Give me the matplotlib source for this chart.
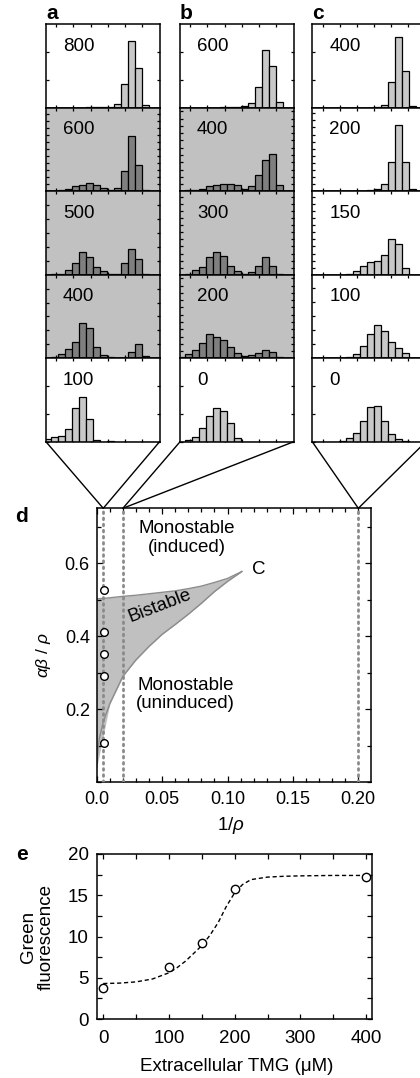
import numpy as np
import matplotlib.pyplot as plt
from matplotlib.ticker import MultipleLocator, FixedLocator, NullFormatter
from matplotlib.patches import ConnectionPatch

plt.rcParams['font.family'] = ['Liberation Sans', 'DejaVu Sans']
plt.rcParams['mathtext.fontset'] = 'custom'
plt.rcParams['mathtext.rm'] = 'Liberation Sans'
plt.rcParams['mathtext.it'] = 'Liberation Sans:italic'

# --- histograms (fraction of panel height per fluorescence bin, 16 bins) ---
a_tmg = ['800', '600', '500', '400', '100']
a_bistable = [False, True, True, True, False]
a_step = [0.335, 0.084, 0.167, 0.167, 0.335]
a_hist = [
    [0, 0, 0, 0, 0, 0, 0.01, 0.01, 0.01, 0.01, 0.05, 0.28, 0.80, 0.48, 0.03, 0],
    [0, 0, 0.01, 0.03, 0.06, 0.08, 0.10, 0.08, 0.04, 0.01, 0.04, 0.24, 0.66, 0.32, 0.02, 0],
    [0, 0.005, 0.01, 0.06, 0.14, 0.27, 0.21, 0.09, 0.04, 0.01, 0.01, 0.14, 0.31, 0.19, 0.005, 0],
    [0.005, 0.02, 0.05, 0.11, 0.20, 0.42, 0.36, 0.13, 0.04, 0.01, 0.005, 0, 0.08, 0.17, 0.03, 0],
    [0.03, 0.06, 0.07, 0.15, 0.41, 0.54, 0.27, 0.02, 0, 0.005, 0, 0, 0, 0, 0, 0],
]

b_tmg = ['600', '400', '300', '200', '0']
b_bistable = [False, True, True, True, False]
b_step = [0.335, 0.087, 0.085, 0.087, 0.335]
b_hist = [
    [0, 0, 0, 0, 0, 0, 0.005, 0.01, 0.015, 0.02, 0.06, 0.25, 0.69, 0.50, 0.065, 0],
    [0, 0.01, 0.02, 0.03, 0.06, 0.08, 0.09, 0.09, 0.08, 0.03, 0.06, 0.20, 0.38, 0.45, 0.07, 0],
    [0, 0.01, 0.06, 0.09, 0.21, 0.27, 0.23, 0.10, 0.05, 0.01, 0.03, 0.10, 0.21, 0.10, 0.01, 0],
    [0.02, 0.05, 0.10, 0.18, 0.29, 0.26, 0.22, 0.13, 0.06, 0.03, 0.04, 0.06, 0.10, 0.07, 0.01, 0],
    [0, 0.02, 0.06, 0.16, 0.31, 0.40, 0.37, 0.23, 0.05, 0, 0, 0, 0, 0, 0, 0],
]

c_tmg = ['400', '200', '150', '100', '0']
c_bistable = [False, False, False, False, False]
c_step = [0.335, 0.085, 0.085, 0.168, 0.335]
c_hist = [
    [0, 0, 0, 0, 0, 0, 0, 0, 0, 0.015, 0.035, 0.31, 0.85, 0.44, 0.025, 0],
    [0, 0, 0, 0, 0, 0, 0, 0.005, 0.01, 0.03, 0.09, 0.345, 0.80, 0.345, 0.025, 0],
    [0, 0, 0, 0, 0, 0.01, 0.04, 0.10, 0.15, 0.16, 0.24, 0.43, 0.37, 0.08, 0, 0],
    [0, 0, 0, 0, 0, 0.02, 0.05, 0.15, 0.29, 0.40, 0.33, 0.19, 0.12, 0.06, 0.005, 0],
    [0, 0, 0, 0, 0.01, 0.04, 0.10, 0.25, 0.42, 0.43, 0.25, 0.09, 0.03, 0.005, 0, 0],
]

inv_rho = [0.005, 0.02, 0.2]   # 1/rho of columns a, b, c

# --- phase diagram (panel d) ---
upper_x = [0.0, 0.01, 0.02, 0.03, 0.04, 0.05, 0.06, 0.07, 0.08, 0.09, 0.10, 0.111]
upper_y = [0.502, 0.505, 0.509, 0.512, 0.516, 0.520, 0.524, 0.530, 0.537, 0.547, 0.558, 0.577]
lower_x = [0.0, 0.001, 0.002, 0.005, 0.01, 0.02, 0.03, 0.04, 0.05, 0.06, 0.07, 0.08, 0.09, 0.10, 0.111]
lower_y = [0.04, 0.09, 0.12, 0.165, 0.215, 0.29, 0.335, 0.372, 0.405, 0.432, 0.46, 0.49, 0.522, 0.55, 0.577]
circ_x = [0.0056, 0.0056, 0.0056, 0.0056, 0.0056]
circ_y = [0.527, 0.411, 0.35, 0.291, 0.108]

# --- induction curve (panel e) ---
tmg = [0, 100, 150, 200, 400]
green = [3.8, 6.3, 9.2, 15.8, 17.2]
fit_x = [0, 25, 50, 75, 100, 112, 125, 137, 150, 162, 175, 187, 200, 212, 225, 250, 275, 300, 350, 400]
fit_y = [4.3, 4.35, 4.5, 4.85, 5.6, 6.2, 7.0, 7.9, 8.9, 10.1, 11.7, 13.6, 15.3, 16.3, 16.9, 17.2, 17.3, 17.35, 17.4, 17.4]

W, H = 420, 1078
FS = 13.5
fig = plt.figure(figsize=(W / 100, H / 100), dpi=100)


def box(l, t, r, b):
    return [l / W, 1 - b / H, (r - l) / W, (b - t) / H]


col_left = [46, 180, 312.3]
col_w = 113.5
row_top = 24.3
row_h = 83.5
bottoms = []

for ci, (tmgs, bist, steps, hists, lab) in enumerate([
        (a_tmg, a_bistable, a_step, a_hist, 'a'),
        (b_tmg, b_bistable, b_step, b_hist, 'b'),
        (c_tmg, c_bistable, c_step, c_hist, 'c')]):
    l = col_left[ci]
    for ri in range(5):
        t = row_top + ri * row_h
        ax = fig.add_axes(box(l, t, l + col_w, t + row_h))
        ax.set_facecolor('#c1c1c1' if bist[ri] else 'white')
        ax.bar(np.arange(16), hists[ri], width=1, align='edge',
               color='#7f7f7f' if bist[ri] else '#c8c8c8',
               edgecolor='k', linewidth=0.9, zorder=2)
        ax.set_xlim(0.24, 16.46)
        ax.set_ylim(0, 1)
        ax.xaxis.set_major_locator(FixedLocator([1.7, 4.15, 6.6, 9.05, 11.5, 13.95]))
        ax.yaxis.set_major_locator(MultipleLocator(steps[ri]))
        ax.xaxis.set_major_formatter(NullFormatter())
        ax.yaxis.set_major_formatter(NullFormatter())
        ax.tick_params(direction='in', length=2.5, width=0.9,
                       top=True, right=True, bottom=True, left=True)
        for s in ax.spines.values():
            s.set_linewidth(1.1)
            s.set_zorder(3)
        ax.text(0.15, 0.74, tmgs[ri], transform=ax.transAxes,
                va='center', ha='left', fontsize=FS)
        if ri == 0:
            ax.text(0.0, 1.015, lab, transform=ax.transAxes, va='bottom',
                    ha='left', fontsize=15, fontweight='bold')
    bottoms.append(ax)

# panel d
axd = fig.add_axes(box(96.7, 508.3, 371, 782.3))
axd.fill_between(upper_x, upper_y, np.interp(upper_x, lower_x, lower_y),
                 color='#c0c0c0', lw=0, zorder=1)
axd.fill_between(lower_x, lower_y, np.interp(lower_x, upper_x, upper_y),
                 color='#c0c0c0', lw=0, zorder=1)
axd.plot(upper_x, upper_y, color='#8c8c8c', lw=1, zorder=2)
axd.plot(lower_x, lower_y, color='#8c8c8c', lw=1, zorder=2)
for xv in inv_rho:
    axd.axvline(xv, color='#8a8a8a', lw=2, ls=(0, (0.6, 1.6)),
                dash_capstyle='round', zorder=3)
axd.plot(circ_x, circ_y, 'o', ms=5.5, mfc='white', mec='k', mew=1, zorder=4)
axd.set_xlim(0, 0.2097)
axd.set_ylim(0, 0.75)
axd.set_xticks([0, 0.05, 0.10, 0.15, 0.20])
axd.set_xticklabels(['0.0', '0.05', '0.10', '0.15', '0.20'])
axd.xaxis.set_minor_locator(MultipleLocator(0.01))
axd.set_yticks([0.2, 0.4, 0.6])
axd.set_yticklabels(['0.2', '0.4', '0.6'])
axd.yaxis.set_minor_locator(MultipleLocator(0.1))
axd.tick_params(which='both', direction='in', top=True, right=True,
                width=0.9, labelsize=13)
axd.tick_params(which='major', length=4)
axd.tick_params(which='minor', length=3)
axd.tick_params(axis='x', pad=6)
axd.tick_params(axis='y', pad=5)
for s in axd.spines.values():
    s.set_linewidth(1.1)
axd.set_xlabel(r'1/$\rho$', fontsize=FS, va='center')
axd.xaxis.set_label_coords(0.49, -0.156)
axd.set_ylabel(r'$\alpha\beta$ / $\rho$', fontsize=12.5, va='center')
axd.yaxis.set_label_coords(-0.194, 0.465)
axd.text(0.0688, 0.669, 'Monostable\n(induced)', ha='center', va='center',
         fontsize=FS, linespacing=1.1)
axd.text(0.0484, 0.482, 'Bistable', ha='center', va='center', fontsize=FS,
         rotation=21)
axd.text(0.068, 0.241, 'Monostable\n(uninduced)', ha='center', va='center',
         fontsize=FS, linespacing=1.1)
axd.text(0.1236, 0.582, 'C', ha='center', va='center', fontsize=FS)
fig.text(22 / W, 1 - 516.7 / H, 'd', fontsize=15, fontweight='bold',
         ha='center', va='center')

# connectors from histogram columns to phase diagram
for ax_b, xv in zip(bottoms, inv_rho):
    for corner in [(0, 0), (1, 0)]:
        con = ConnectionPatch(xyA=corner, coordsA='axes fraction', axesA=ax_b,
                              xyB=(xv, 0.75), coordsB='data', axesB=axd,
                              color='k', lw=1)
        fig.add_artist(con)

# panel e
axe = fig.add_axes(box(97.3, 854, 371.7, 1019))
axe.plot(fit_x, fit_y, color='k', lw=1, ls=(0, (3, 2)))
axe.plot(tmg, green, 'o', ms=6, mfc='white', mec='k', mew=1, zorder=3)
axe.set_xlim(-9, 408.5)
axe.set_ylim(0, 20)
axe.set_xticks([0, 100, 200, 300, 400])
axe.set_yticks([0, 5, 10, 15, 20])
axe.xaxis.set_minor_locator(MultipleLocator(50))
axe.yaxis.set_minor_locator(MultipleLocator(2.5))
axe.tick_params(which='both', direction='in', top=True, right=True,
                width=0.9, length=3.5, labelsize=FS)
axe.tick_params(axis='x', pad=8)
axe.tick_params(axis='y', pad=6)
for s in axe.spines.values():
    s.set_linewidth(1.1)
axe.set_xlabel('Extracellular TMG (\u03bcM)', fontsize=FS, va='center')
axe.xaxis.set_label_coords(0.508, -0.29)
axe.set_ylabel('Green\nfluorescence', fontsize=FS, va='center', linespacing=1.05)
axe.yaxis.set_label_coords(-0.218, 0.5)
fig.text(22 / W, 1 - 855 / H, 'e', fontsize=15, fontweight='bold',
         ha='center', va='center')

fig.savefig('out.png', dpi=100)
